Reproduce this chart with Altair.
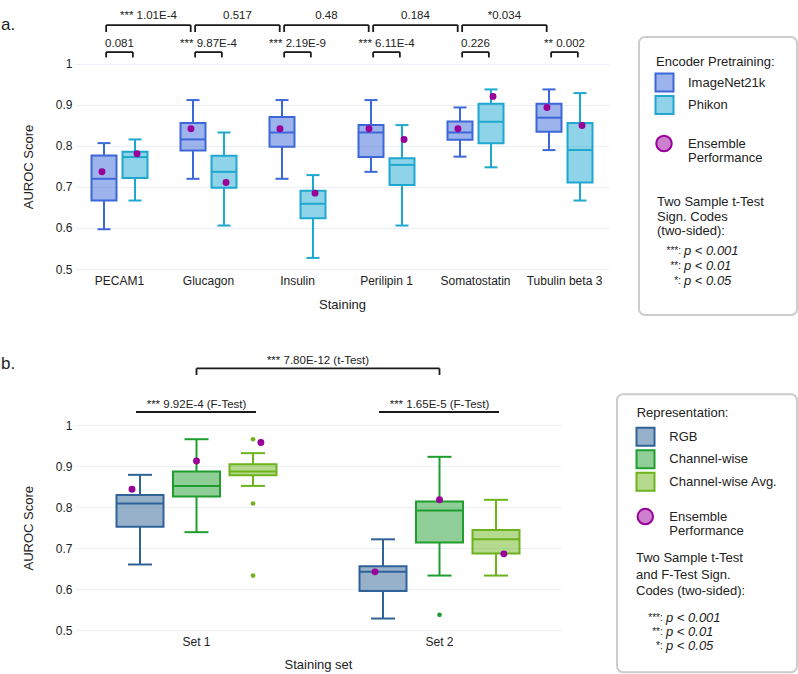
import altair as alt
import pandas as pd

FONT = "Liberation Sans"
TXT = "#222222"
GRID = "#EBF0F8"
ENS = "#990099"
LINE = "#1a1a1a"

# ---------------- Panel a data (order: staining-major, encoder-minor)
stainings = ["PECAM1", "Glucagon", "Insulin", "Perilipin 1", "Somatostatin", "Tubulin beta 3"]
encoders = ["ImageNet21k", "Phikon"]
enc_colors = ["#3c67d8", "#1ea8d0"]
a_lower = [0.597, 0.667, 0.720, 0.606, 0.720, 0.527, 0.737, 0.606, 0.774, 0.748, 0.790, 0.667]
a_q1 = [0.667, 0.722, 0.789, 0.698, 0.798, 0.624, 0.773, 0.705, 0.815, 0.807, 0.835, 0.711]
a_median = [0.720, 0.773, 0.816, 0.737, 0.833, 0.659, 0.833, 0.754, 0.833, 0.859, 0.869, 0.790]
a_q3 = [0.777, 0.786, 0.856, 0.776, 0.871, 0.691, 0.851, 0.770, 0.860, 0.903, 0.903, 0.856]
a_upper = [0.807, 0.816, 0.912, 0.833, 0.912, 0.729, 0.912, 0.851, 0.894, 0.938, 0.938, 0.929]
a_ensemble = [0.737, 0.781, 0.842, 0.711, 0.842, 0.685, 0.842, 0.816, 0.842, 0.921, 0.894, 0.850]
a_pair_pvals = ["0.081", "*** 9.87E-4", "*** 2.19E-9", "*** 6.11E-4", "0.226", "** 0.002"]
a_between_pvals = ["*** 1.01E-4", "0.517", "0.48", "0.184", "*0.034"]

# ---------------- Panel b data (order: set-major, representation-minor)
sets = ["Set 1", "Set 2"]
reps = ["RGB", "Channel-wise", "Channel-wise Avg."]
rep_colors = ["#2f6398", "#1f9e2f", "#6cb31c"]
b_lower = [0.660, 0.739, 0.852, 0.528, 0.633, 0.633]
b_q1 = [0.752, 0.826, 0.878, 0.595, 0.714, 0.687]
b_median = [0.809, 0.852, 0.887, 0.642, 0.792, 0.7215]
b_q3 = [0.830, 0.887, 0.905, 0.656, 0.814, 0.744]
b_upper = [0.879, 0.966, 0.932, 0.7215, 0.923, 0.818]
b_ensemble = [0.844, 0.913, 0.958, 0.642, 0.818, 0.686]
b_out_set = ["Set 1", "Set 1", "Set 1", "Set 2"]
b_out_rep = ["Channel-wise Avg.", "Channel-wise Avg.", "Channel-wise Avg.", "Channel-wise"]
b_out_val = [0.966, 0.809, 0.633, 0.537]
b_ftest_pvals = ["*** 9.92E-4 (F-Test)", "*** 1.65E-5 (F-Test)"]
b_ttest_pvals = ["*** 7.80E-12 (t-Test)"]

# ---------------- legend texts
a_legend_title = "Encoder Pretraining:"
b_legend_title = "Representation:"
ens_label = ["Ensemble", "Performance"]
a_test_lines = ["Two Sample t-Test", "Sign. Codes", "(two-sided):"]
b_test_lines = ["Two Sample t-Test", "and F-Test Sign.", "Codes (two-sided):"]
code_stars = ["***:", "**:", "*:"]
code_p = ["p < 0.001", "p < 0.01", "p < 0.05"]

one = pd.DataFrame({"k": [0]})


def ltext(x, y, s, size=13, align="left", style="normal"):
    return alt.Chart(one).mark_text(
        text=s, align=align, baseline="middle", fontSize=size, font=FONT,
        color=TXT, fontStyle=style
    ).encode(x=alt.value(x), y=alt.value(y))


def lsquare(xc, yc, color, half=9):
    return alt.Chart(one).mark_rect(
        fill=color, fillOpacity=0.5, stroke=color, strokeWidth=2
    ).encode(x=alt.value(xc - half), x2=alt.value(xc + half),
             y=alt.value(yc - half), y2=alt.value(yc + half))


def lcircle(xc, yc):
    return alt.Chart(one).mark_point(
        shape="circle", filled=True, fill=ENS, fillOpacity=0.5, stroke=ENS,
        strokeWidth=2, strokeOpacity=1, opacity=1, size=240
    ).encode(x=alt.value(xc), y=alt.value(yc))


def lbox(x1, x2, y1, y2):
    return alt.Chart(one).mark_rect(
        fill="white", stroke="#cccccc", strokeWidth=2, cornerRadius=6
    ).encode(x=alt.value(x1), x2=alt.value(x2), y=alt.value(y1), y2=alt.value(y2))


def box_layers(df, cat, grp, grps, colors, xs, ax_x, xtitle, xos, box_bp, ens_bp, ys, ax_y,
               cap_w, med_w, out_df=None):
    X = alt.X(f"{cat}:N", scale=xs, axis=ax_x, title=xtitle)
    XO = alt.XOffset(f"{grp}:N", scale=xos)
    col = alt.Color(f"{grp}:N", scale=alt.Scale(domain=grps, range=colors), legend=None)
    stk = alt.Stroke(f"{grp}:N", scale=alt.Scale(domain=grps, range=colors), legend=None)
    fil = alt.Fill(f"{grp}:N", scale=alt.Scale(domain=grps, range=colors), legend=None)

    def Y(f):
        return alt.Y(f"{f}:Q", scale=ys, axis=ax_y, title="AUROC Score")

    def XP(bp):
        return alt.X(f"{cat}:N", scale=xs, axis=ax_x, title=xtitle, bandPosition=bp)

    base = alt.Chart(df)
    layers = [
        base.mark_rule(strokeWidth=2).encode(x=X, xOffset=XO, y=Y("lo"), y2="q1:Q", color=col),
        base.mark_rule(strokeWidth=2).encode(x=X, xOffset=XO, y=Y("q3"), y2="hi:Q", color=col),
        base.mark_bar(fillOpacity=0.5, strokeWidth=2).encode(
            x=X, xOffset=XO, y=Y("q1"), y2="q3:Q", fill=fil, stroke=stk),
        base.mark_tick(thickness=2, size=med_w, opacity=1).encode(x=X, xOffset=XO, y=Y("med"), color=col),
        base.mark_tick(thickness=2, size=cap_w, opacity=1).encode(x=X, xOffset=XO, y=Y("lo"), color=col),
        base.mark_tick(thickness=2, size=cap_w, opacity=1).encode(x=X, xOffset=XO, y=Y("hi"), color=col),
    ]
    if out_df is not None:
        for g, bp, c in zip(grps, box_bp, colors):
            layers.append(alt.Chart(out_df).transform_filter(alt.datum[grp] == g).mark_circle(
                size=22, opacity=1, color=c).encode(x=XP(bp), y=Y("val")))
    for g, bp in zip(grps, ens_bp):
        layers.append(base.transform_filter(alt.datum[grp] == g).mark_circle(
            size=48, opacity=1, color=ENS).encode(x=XP(bp), y=Y("ens")))
    return layers


# ================= Panel a =================
df_a = pd.DataFrame({
    "stain": [s for s in stainings for _ in encoders],
    "enc": [e for _ in stainings for e in encoders],
    "lo": a_lower, "q1": a_q1, "med": a_median, "q3": a_q3, "hi": a_upper, "ens": a_ensemble,
})
xs_a = alt.Scale(domain=stainings, paddingInner=0, paddingOuter=0)
ax_x_a = alt.Axis(title="Staining", labelAngle=0, ticks=False, tickSize=0, domain=False, grid=False,
                  labelPadding=6, titlePadding=12)
ys_a = alt.Scale(domain=[0.5, 1.139], nice=False, zero=False)
ax_y_a = alt.Axis(title="AUROC Score", values=[0.5, 0.6, 0.7, 0.8, 0.9, 1.0], format="~g",
                  grid=True, gridColor=GRID, gridWidth=1, domain=False, ticks=False, tickSize=0,
                  labelPadding=3, titlePadding=20, titleY=159.5)
xos_a = alt.Scale(domain=encoders, paddingInner=0.194, paddingOuter=0.532)

layers_a = box_layers(df_a, "stain", "enc", encoders, enc_colors, xs_a, ax_x_a, "Staining",
                      xos_a, [0.326, 0.674], [0.303, 0.697], ys_a, ax_y_a, cap_w=13, med_w=25)


def XA(field, bp):
    return alt.X(f"{field}:N", scale=xs_a, axis=ax_x_a, bandPosition=bp, title="Staining")


def YA(v):
    return alt.YDatum(v, scale=ys_a, axis=ax_y_a, title="AUROC Score", type="quantitative")


low_a = pd.DataFrame({"stain": stainings, "label": a_pair_pvals})
up_a = pd.DataFrame({"from": stainings[:-1], "to": stainings[1:], "label": a_between_pvals})
br = dict(color=LINE, strokeWidth=1.8)
layers_a += [
    alt.Chart(low_a).mark_rule(**br).encode(x=XA("stain", 0.35), x2=alt.X2("stain:N", bandPosition=0.65), y=YA(1.029)),
    alt.Chart(low_a).mark_rule(**br).encode(x=XA("stain", 0.35), y=YA(1.016), y2=alt.Y2Datum(1.029)),
    alt.Chart(low_a).mark_rule(**br).encode(x=XA("stain", 0.65), y=YA(1.016), y2=alt.Y2Datum(1.029)),
    alt.Chart(low_a).mark_text(fontSize=11.5, font=FONT, color=TXT, baseline="middle").encode(
        x=XA("stain", 0.5), y=YA(1.049), text="label:N"),
    alt.Chart(up_a).mark_rule(**br).encode(x=XA("from", 0.35), x2=alt.X2("to:N", bandPosition=0.30), y=YA(1.095)),
    alt.Chart(up_a).mark_rule(**br).encode(x=XA("from", 0.35), y=YA(1.078), y2=alt.Y2Datum(1.095)),
    alt.Chart(up_a).mark_rule(**br).encode(x=XA("to", 0.30), y=YA(1.078), y2=alt.Y2Datum(1.095)),
    alt.Chart(up_a).mark_text(fontSize=11.5, font=FONT, color=TXT, baseline="middle").encode(
        x=XA("from", 0.825), y=YA(1.117), text="label:N"),
]

# legend a (pixel positions relative to plot origin)
leg_a = [
    lbox(564, 722, 30, 308),
    ltext(581, 55, a_legend_title),
    lsquare(589.5, 75.5, enc_colors[0]),
    lsquare(589.5, 98, enc_colors[1]),
    ltext(613, 75.5, encoders[0]),
    ltext(613, 98, encoders[1]),
    lcircle(589, 136.5),
    ltext(613, 137, ens_label[0]),
    ltext(613, 151, ens_label[1]),
]
for i, s in enumerate(a_test_lines):
    leg_a.append(ltext(582, 195 + 14.5 * i, s))
for i in range(3):
    leg_a.append(ltext(606, 243.5 + 15 * i, code_stars[i], size=10, align="right"))
    leg_a.append(ltext(609, 243.5 + 15 * i, code_p[i], style="italic"))
leg_a.append(ltext(-74, 18, "a.", size=17))

row_a = alt.layer(*layers_a, *leg_a).resolve_scale(xOffset="independent").properties(width=534, height=262)

# ================= Panel b =================
df_b = pd.DataFrame({
    "set": [s for s in sets for _ in reps],
    "rep": [r for _ in sets for r in reps],
    "lo": b_lower, "q1": b_q1, "med": b_median, "q3": b_q3, "hi": b_upper, "ens": b_ensemble,
})
out_b = pd.DataFrame({"set": b_out_set, "rep": b_out_rep, "val": b_out_val})
xs_b = alt.Scale(domain=sets, paddingInner=0, paddingOuter=0)
ax_x_b = alt.Axis(title="Staining set", labelAngle=0, ticks=False, tickSize=0, domain=False, grid=False,
                  labelPadding=6, titlePadding=11)
ys_b = alt.Scale(domain=[0.5, 1.1815], nice=False, zero=False)
ax_y_b = alt.Axis(title="AUROC Score", values=[0.5, 0.6, 0.7, 0.8, 0.9, 1.0], format="~g",
                  grid=True, gridColor=GRID, gridWidth=1, domain=False, ticks=False, tickSize=0,
                  labelPadding=3, titlePadding=20, titleY=176.7)
xos_b = alt.Scale(domain=reps, paddingInner=0.168, paddingOuter=0.7345)

layers_b = box_layers(df_b, "set", "rep", reps, rep_colors, xs_b, ax_x_b, "Staining set",
                      xos_b, [0.2675, 0.5, 0.7325], [0.2346, 0.5, 0.765], ys_b, ax_y_b,
                      cap_w=24, med_w=47, out_df=out_b)


def XB(field, bp):
    return alt.X(f"{field}:N", scale=xs_b, axis=ax_x_b, bandPosition=bp, title="Staining set")


def YB(v):
    return alt.YDatum(v, scale=ys_b, axis=ax_y_b, title="AUROC Score", type="quantitative")


f_b = pd.DataFrame({"set": sets, "label": b_ftest_pvals})
t_b = pd.DataFrame({"from": sets[:1], "to": sets[1:], "label": b_ttest_pvals})
layers_b += [
    alt.Chart(f_b).mark_rule(color=LINE, strokeWidth=2).encode(
        x=XB("set", 0.251), x2=alt.X2("set:N", bandPosition=0.745), y=YB(1.0325)),
    alt.Chart(f_b).mark_text(fontSize=11.5, font=FONT, color=TXT, baseline="middle").encode(
        x=XB("set", 0.5), y=YB(1.049), text="label:N"),
    alt.Chart(t_b).mark_rule(**br).encode(x=XB("from", 0.5), x2=alt.X2("to:N", bandPosition=0.5), y=YB(1.139)),
    alt.Chart(t_b).mark_rule(**br).encode(x=XB("from", 0.5), y=YB(1.123), y2=alt.Y2Datum(1.139)),
    alt.Chart(t_b).mark_rule(**br).encode(x=XB("to", 0.5), y=YB(1.123), y2=alt.Y2Datum(1.139)),
    alt.Chart(t_b).mark_text(fontSize=11.5, font=FONT, color=TXT, baseline="middle").encode(
        x=XB("from", 1.0), y=YB(1.157), text="label:N"),
]

leg_b = [
    lbox(542, 722, 43.3, 321.3),
    ltext(561.7, 61.6, b_legend_title),
]
for i, r in enumerate(reps):
    leg_b.append(lsquare(570.5, 85.8 + 22.5 * i, rep_colors[i]))
    leg_b.append(ltext(594.3, 85.8 + 22.5 * i, r))
leg_b += [
    lcircle(570.3, 165.6),
    ltext(594.3, 165.6, ens_label[0]),
    ltext(594.3, 180, ens_label[1]),
]
for i, s in enumerate(b_test_lines):
    leg_b.append(ltext(561, 207.3 + 16.5 * i, s))
for i in range(3):
    leg_b.append(ltext(587.7, 266.6 + 14.2 * i, code_stars[i], size=10, align="right"))
    leg_b.append(ltext(591, 266.6 + 14.2 * i, code_p[i], style="italic"))
leg_b.append(ltext(-74, 13.3, "b.", size=17))

row_b = alt.layer(*layers_b, *leg_b).resolve_scale(xOffset="independent").properties(width=486, height=279)

chart = alt.vconcat(row_a, row_b, spacing=35).resolve_scale(
    color="independent", fill="independent", stroke="independent"
).properties(
    padding={"left": 1, "top": 7, "right": 0, "bottom": 0},
    background="white",
).configure_view(strokeWidth=0).configure_axis(
    labelFont=FONT, titleFont=FONT, labelColor=TXT, titleColor=TXT,
    labelFontSize=12, titleFontSize=13, titleFontWeight="normal",
).configure_text(font=FONT)

chart.save("out.html", embed_options={"renderer": "svg", "actions": False})
